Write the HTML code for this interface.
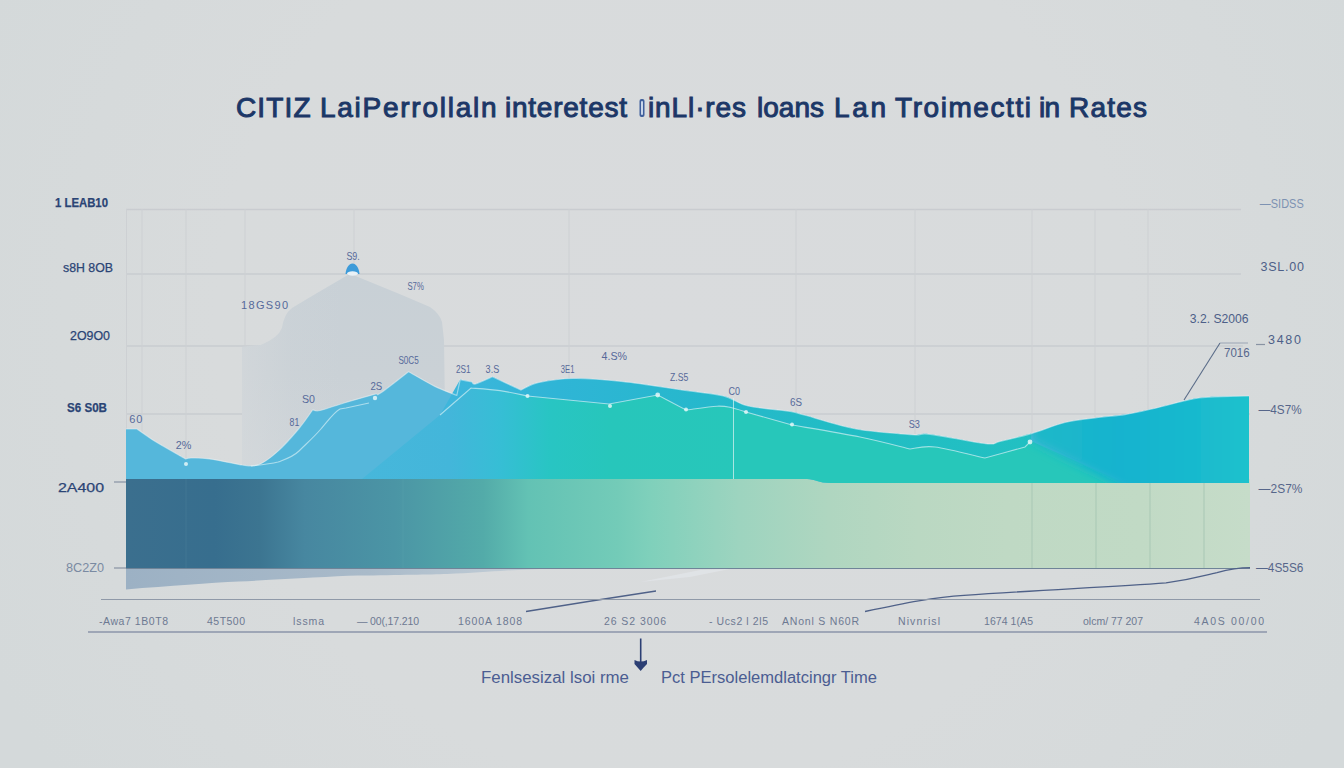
<!DOCTYPE html>
<html><head><meta charset="utf-8">
<style>
html,body{margin:0;padding:0;width:1344px;height:768px;overflow:hidden;background:#d6dadb;}
svg{display:block;}
text{font-family:"Liberation Sans",sans-serif;}
</style></head>
<body>
<svg width="1344" height="768" viewBox="0 0 1344 768">
<defs>
  <radialGradient id="bgG" cx="672" cy="330" r="760" gradientUnits="userSpaceOnUse">
    <stop offset="0" stop-color="#d9dbdd"/>
    <stop offset="0.6" stop-color="#d8dbdc"/>
    <stop offset="1" stop-color="#d4d9da"/>
  </radialGradient>
  <linearGradient id="bandG" x1="126" y1="0" x2="1250" y2="0" gradientUnits="userSpaceOnUse">
    <stop offset="0" stop-color="#3b6f8e"/>
    <stop offset="0.079" stop-color="#376e8e"/>
    <stop offset="0.119" stop-color="#3c7591"/>
    <stop offset="0.159" stop-color="#4787a0"/>
    <stop offset="0.238" stop-color="#4b95a5"/>
    <stop offset="0.318" stop-color="#53aba9"/>
    <stop offset="0.358" stop-color="#63c2b4"/>
    <stop offset="0.437" stop-color="#73cbb8"/>
    <stop offset="0.466" stop-color="#7fd0bb"/>
    <stop offset="0.545" stop-color="#9dd4bf"/>
    <stop offset="0.625" stop-color="#afd6c0"/>
    <stop offset="0.705" stop-color="#bad8c2"/>
    <stop offset="0.784" stop-color="#bfd9c4"/>
    <stop offset="0.903" stop-color="#c1dac5"/>
    <stop offset="1" stop-color="#c6dcc9"/>
  </linearGradient>
  <linearGradient id="blueG" x1="126" y1="0" x2="1250" y2="0" gradientUnits="userSpaceOnUse">
    <stop offset="0" stop-color="#57b7db"/>
    <stop offset="0.3" stop-color="#52b8dc"/>
    <stop offset="1" stop-color="#52b8dc"/>
  </linearGradient>
  <linearGradient id="tealG" x1="362" y1="0" x2="740" y2="0" gradientUnits="userSpaceOnUse">
    <stop offset="0" stop-color="#47b7db"/>
    <stop offset="0.233" stop-color="#43b6da"/>
    <stop offset="0.365" stop-color="#36bed5"/>
    <stop offset="0.497" stop-color="#28c5c3"/>
    <stop offset="0.656" stop-color="#27c6bb"/>
    <stop offset="1" stop-color="#27c7ba"/>
  </linearGradient>
  <linearGradient id="shadowG" x1="126" y1="0" x2="530" y2="0" gradientUnits="userSpaceOnUse">
    <stop offset="0" stop-color="#9cb1c4"/>
    <stop offset="0.6" stop-color="#a9bac9"/>
    <stop offset="1" stop-color="#c3ced7"/>
  </linearGradient>
  <linearGradient id="mtnG" x1="0" y1="270" x2="0" y2="480" gradientUnits="userSpaceOnUse">
    <stop offset="0" stop-color="#c8d0d6"/>
    <stop offset="0.5" stop-color="#cad1d6"/>
    <stop offset="1" stop-color="#cfd5d9"/>
  </linearGradient>
  <linearGradient id="mtnFade" x1="242" y1="0" x2="446" y2="0" gradientUnits="userSpaceOnUse">
    <stop offset="0" stop-color="#d8dbdd" stop-opacity="0.5"/>
    <stop offset="0.25" stop-color="#d8dbdd" stop-opacity="0.1"/>
    <stop offset="0.5" stop-color="#d8dbdd" stop-opacity="0"/>
    <stop offset="1" stop-color="#d8dbdd" stop-opacity="0"/>
  </linearGradient>
  <linearGradient id="ridgeG" x1="440" y1="0" x2="1031" y2="0" gradientUnits="userSpaceOnUse">
    <stop offset="0" stop-color="#3fb6dc"/>
    <stop offset="0.2" stop-color="#2fb5d6"/>
    <stop offset="0.45" stop-color="#26b8cc"/>
    <stop offset="0.7" stop-color="#21bdc4"/>
    <stop offset="1" stop-color="#22c0c2"/>
  </linearGradient>
  <linearGradient id="rightG" x1="1031" y1="0" x2="1249" y2="0" gradientUnits="userSpaceOnUse">
    <stop offset="0" stop-color="#1db9c8"/>
    <stop offset="0.4" stop-color="#17b3cf"/>
    <stop offset="0.75" stop-color="#19b9ce"/>
    <stop offset="1" stop-color="#1dc2cc"/>
  </linearGradient>
</defs>
<rect width="1344" height="768" fill="url(#bgG)"/>

<!-- gridlines -->
<g stroke="#c9ccd0" stroke-width="1.5" fill="none">
  <line x1="126" y1="209.5" x2="1241" y2="209.5"/>
  <line x1="126" y1="274" x2="1241" y2="274"/>
  <line x1="126" y1="346" x2="1243" y2="346"/>
  <line x1="126" y1="414" x2="1250" y2="414"/>
</g>
<g stroke="#cdd0d3" stroke-width="1" fill="none">
  <line x1="126.5" y1="209" x2="126.5" y2="568"/>
  <line x1="142" y1="209" x2="142" y2="568"/>
  <line x1="186" y1="209" x2="186" y2="568"/>
  <line x1="245" y1="209" x2="245" y2="568"/>
  <line x1="354" y1="209" x2="354" y2="568"/>
  <line x1="569" y1="209" x2="569" y2="568"/>
  <line x1="796" y1="209" x2="796" y2="568"/>
  <line x1="915" y1="209" x2="915" y2="568"/>
  <line x1="1032" y1="209" x2="1032" y2="568"/>
  <line x1="1095" y1="209" x2="1095" y2="568"/>
  <line x1="1148" y1="209" x2="1148" y2="568"/>
</g>

<!-- grey mountain -->
<path d="M242,479 L242,347 Q252,345 261,345 Q278,338 282,328 Q284,314 292,308 L312,296 L350,273.7 L399.5,294 L430,307 Q440,314 442,322 L444,340 L446,479 Z" fill="url(#mtnG)"/>
<path d="M242,479 L242,347 Q252,345 261,345 Q278,338 282,328 Q284,314 292,308 L312,296 L350,273.7 L399.5,294 L430,307 Q440,314 442,322 L444,340 L446,479 Z" fill="url(#mtnFade)"/>

<!-- band -->
<rect x="126" y="479" width="1124" height="89.5" fill="url(#bandG)"/>
<line x1="186" y1="479" x2="186" y2="568" stroke="#4a7e99" stroke-width="1" opacity="0.5"/>
<line x1="403" y1="479" x2="403" y2="568" stroke="#5aa3ad" stroke-width="1" opacity="0.4"/>
<g stroke="#a6c6b3" stroke-width="1" opacity="0.9">
  <line x1="1032" y1="483" x2="1032" y2="568"/>
  <line x1="1096" y1="483" x2="1096" y2="568"/>
  <line x1="1150" y1="483" x2="1150" y2="568"/>
  <line x1="1204" y1="483" x2="1204" y2="568"/>
</g>
<!-- main area -->
<path d="M126.0,429.0 C127.8,429.0 135.2,429.0 137.0,429.0 C140.1,431.1 147.6,436.8 155.7,441.8 C163.8,446.8 180.5,456.0 185.5,458.9 C186.5,458.8 187.4,458.0 191.4,458.0 C195.4,458.0 200.9,457.7 209.3,458.9 C217.7,460.1 236.6,464.0 242.0,465.0 C244.7,465.0 252.4,467.1 258.4,464.8 C264.3,462.5 271.0,457.4 277.7,451.4 C284.4,445.4 292.8,435.9 298.6,429.0 C304.4,422.1 310.4,413.0 312.7,409.8 C313.9,409.9 314.8,411.6 320.0,410.5 C325.2,409.4 335.0,405.7 344.0,403.0 C353.0,400.3 367.9,396.1 374.0,394.4 C380.1,392.7 374.8,396.8 380.6,393.0 C386.4,389.2 403.9,375.2 408.6,371.7 C413.0,374.1 426.8,382.4 434.8,386.4 C442.8,390.3 453.1,393.9 456.8,395.4 C457.4,392.8 459.6,382.2 460.2,379.6 C462.2,380.0 470.0,381.6 472.0,382.0 C472.6,382.3 472.1,384.8 475.5,383.9 C478.9,383.0 489.6,378.0 492.4,376.8 C497.2,379.0 516.2,387.8 521.0,390.0 C523.8,388.8 529.3,384.6 538.0,382.7 C546.7,380.8 559.1,378.7 573.3,378.5 C587.5,378.3 605.2,379.8 623.3,381.7 C641.4,383.6 665.0,387.6 681.7,390.0 C698.4,392.4 712.2,393.3 723.3,396.0 C734.3,398.7 736.9,403.4 748.0,406.0 C759.1,408.6 780.3,409.9 790.0,411.5 C799.7,413.1 795.0,412.6 806.0,415.5 C817.0,418.4 838.3,425.8 856.0,429.0 C873.7,432.2 899.7,433.8 912.0,434.7 C924.3,435.6 917.7,432.8 930.0,434.3 C942.3,435.8 974.0,442.5 985.7,443.7 C997.4,444.9 992.4,443.1 1000.0,441.4 C1007.6,439.7 1020.6,436.8 1031.4,433.6 C1042.2,430.5 1053.8,425.2 1065.0,422.5 C1076.2,419.8 1088.4,418.8 1098.4,417.5 C1108.4,416.2 1116.1,416.0 1125.0,414.6 C1133.9,413.2 1142.3,411.2 1152.0,409.0 C1161.7,406.8 1175.2,403.1 1183.0,401.2 C1190.8,399.4 1193.5,398.7 1198.8,398.0 C1204.0,397.3 1206.1,397.1 1214.5,396.8 C1222.9,396.5 1243.2,396.1 1249.0,396.0 L1249,483 L831,483 C818,483 815,479 807,479 L126,479 Z" fill="#55b7db"/>
<!-- teal overlay with diagonal left edge -->
<path d="M362,479 L440.0,415.0 C445.2,410.5 465.8,392.5 471.0,388.0 C475.8,388.4 490.6,389.3 500.0,390.6 C509.4,391.9 522.9,395.1 527.5,396.0 C541.1,397.3 595.4,402.7 609.0,404.0 C617.1,402.5 649.6,396.5 657.7,395.0 C662.4,397.5 681.3,407.5 686.0,410.0 C691.2,409.4 709.4,406.6 717.0,406.2 C724.6,405.9 726.9,406.7 731.7,407.7 C736.5,408.7 743.6,411.3 746.0,412.0 C753.7,414.2 784.3,422.8 792.0,425.0 C803.3,427.0 840.3,433.0 860.0,437.0 C879.7,441.0 901.7,447.0 910.0,449.0 C914.2,448.7 922.5,445.5 935.0,447.0 C947.5,448.5 976.7,456.2 985.0,458.0 C991.7,456.2 1018.3,448.8 1025.0,447.0 C1025.8,446.2 1029.2,442.8 1030.0,442.0 L1031,441 L1125,483 L831,483 C818,483 815,479 807,479 Z" fill="url(#tealG)"/>
<!-- ridge between top edge and white line -->
<path d="M460.2,379.6 C462.2,380.0 470.0,381.6 472.0,382.0 C472.6,382.3 472.1,384.8 475.5,383.9 C478.9,383.0 489.6,378.0 492.4,376.8 C497.2,379.0 516.2,387.8 521.0,390.0 C523.8,388.8 529.3,384.6 538.0,382.7 C546.7,380.8 559.1,378.7 573.3,378.5 C587.5,378.3 605.2,379.8 623.3,381.7 C641.4,383.6 665.0,387.6 681.7,390.0 C698.4,392.4 712.2,393.3 723.3,396.0 C734.3,398.7 736.9,403.4 748.0,406.0 C759.1,408.6 780.3,409.9 790.0,411.5 C799.7,413.1 795.0,412.6 806.0,415.5 C817.0,418.4 838.3,425.8 856.0,429.0 C873.7,432.2 899.7,433.8 912.0,434.7 C924.3,435.6 917.7,432.8 930.0,434.3 C942.3,435.8 974.0,442.5 985.7,443.7 C997.4,444.9 992.4,443.1 1000.0,441.4 C1007.6,439.7 1026.2,434.9 1031.4,433.6 L1031,441 L1030.0,442.0 C1029.2,442.8 1025.8,446.2 1025.0,447.0 C1018.3,448.8 991.7,456.2 985.0,458.0 C976.7,456.2 947.5,448.5 935.0,447.0 C922.5,445.5 914.2,448.7 910.0,449.0 C901.7,447.0 879.7,441.0 860.0,437.0 C840.3,433.0 803.3,427.0 792.0,425.0 C784.3,422.8 753.7,414.2 746.0,412.0 C743.6,411.3 736.5,408.7 731.7,407.7 C726.9,406.7 724.6,405.9 717.0,406.2 C709.4,406.6 691.2,409.4 686.0,410.0 C681.3,407.5 662.4,397.5 657.7,395.0 C649.6,396.5 617.1,402.5 609.0,404.0 C595.4,402.7 541.1,397.3 527.5,396.0 C522.9,395.1 509.4,391.9 500.0,390.6 C490.6,389.3 475.8,388.4 471.0,388.0 C465.8,392.5 445.2,410.5 440.0,415.0 L460.2,379.6 Z" fill="url(#ridgeG)"/>
<!-- right blue -->
<clipPath id="areaClip"><path d="M126.0,429.0 C127.8,429.0 135.2,429.0 137.0,429.0 C140.1,431.1 147.6,436.8 155.7,441.8 C163.8,446.8 180.5,456.0 185.5,458.9 C186.5,458.8 187.4,458.0 191.4,458.0 C195.4,458.0 200.9,457.7 209.3,458.9 C217.7,460.1 236.6,464.0 242.0,465.0 C244.7,465.0 252.4,467.1 258.4,464.8 C264.3,462.5 271.0,457.4 277.7,451.4 C284.4,445.4 292.8,435.9 298.6,429.0 C304.4,422.1 310.4,413.0 312.7,409.8 C313.9,409.9 314.8,411.6 320.0,410.5 C325.2,409.4 335.0,405.7 344.0,403.0 C353.0,400.3 367.9,396.1 374.0,394.4 C380.1,392.7 374.8,396.8 380.6,393.0 C386.4,389.2 403.9,375.2 408.6,371.7 C413.0,374.1 426.8,382.4 434.8,386.4 C442.8,390.3 453.1,393.9 456.8,395.4 C457.4,392.8 459.6,382.2 460.2,379.6 C462.2,380.0 470.0,381.6 472.0,382.0 C472.6,382.3 472.1,384.8 475.5,383.9 C478.9,383.0 489.6,378.0 492.4,376.8 C497.2,379.0 516.2,387.8 521.0,390.0 C523.8,388.8 529.3,384.6 538.0,382.7 C546.7,380.8 559.1,378.7 573.3,378.5 C587.5,378.3 605.2,379.8 623.3,381.7 C641.4,383.6 665.0,387.6 681.7,390.0 C698.4,392.4 712.2,393.3 723.3,396.0 C734.3,398.7 736.9,403.4 748.0,406.0 C759.1,408.6 780.3,409.9 790.0,411.5 C799.7,413.1 795.0,412.6 806.0,415.5 C817.0,418.4 838.3,425.8 856.0,429.0 C873.7,432.2 899.7,433.8 912.0,434.7 C924.3,435.6 917.7,432.8 930.0,434.3 C942.3,435.8 974.0,442.5 985.7,443.7 C997.4,444.9 992.4,443.1 1000.0,441.4 C1007.6,439.7 1020.6,436.8 1031.4,433.6 C1042.2,430.5 1053.8,425.2 1065.0,422.5 C1076.2,419.8 1088.4,418.8 1098.4,417.5 C1108.4,416.2 1116.1,416.0 1125.0,414.6 C1133.9,413.2 1142.3,411.2 1152.0,409.0 C1161.7,406.8 1175.2,403.1 1183.0,401.2 C1190.8,399.4 1193.5,398.7 1198.8,398.0 C1204.0,397.3 1206.1,397.1 1214.5,396.8 C1222.9,396.5 1243.2,396.1 1249.0,396.0 L1249,483 L831,483 C818,483 815,479 807,479 L126,479 Z"/></clipPath>
<filter id="softB" filterUnits="userSpaceOnUse" x="990" y="360" width="300" height="150"><feGaussianBlur stdDeviation="5"/></filter>
<g clip-path="url(#areaClip)">
<path d="M1031,441 L1031,370 L1270,370 L1270,495 L1135,495 Z" fill="url(#rightG)" filter="url(#softB)"/>
</g>
<path d="M1031.4,433.6 C1037.0,431.8 1053.8,425.2 1065.0,422.5 C1076.2,419.8 1088.4,418.8 1098.4,417.5 C1108.4,416.2 1116.1,416.0 1125.0,414.6 C1133.9,413.2 1142.3,411.2 1152.0,409.0 C1161.7,406.8 1175.2,403.1 1183.0,401.2 C1190.8,399.4 1193.5,398.7 1198.8,398.0 C1204.0,397.3 1206.1,397.1 1214.5,396.8 C1222.9,396.5 1243.2,396.1 1249.0,396.0 L1249,483 L1125,483 L1031,441 Z" fill="url(#rightShade)"/>
<!-- top highlight -->
<path d="M126.0,429.0 C127.8,429.0 135.2,429.0 137.0,429.0 C140.1,431.1 147.6,436.8 155.7,441.8 C163.8,446.8 180.5,456.0 185.5,458.9 C186.5,458.8 187.4,458.0 191.4,458.0 C195.4,458.0 200.9,457.7 209.3,458.9 C217.7,460.1 236.6,464.0 242.0,465.0 C244.7,465.0 252.4,467.1 258.4,464.8 C264.3,462.5 271.0,457.4 277.7,451.4 C284.4,445.4 292.8,435.9 298.6,429.0 C304.4,422.1 310.4,413.0 312.7,409.8 C313.9,409.9 314.8,411.6 320.0,410.5 C325.2,409.4 335.0,405.7 344.0,403.0 C353.0,400.3 367.9,396.1 374.0,394.4 C380.1,392.7 374.8,396.8 380.6,393.0 C386.4,389.2 403.9,375.2 408.6,371.7 C413.0,374.1 426.8,382.4 434.8,386.4 C442.8,390.3 453.1,393.9 456.8,395.4 C457.4,392.8 459.6,382.2 460.2,379.6 C462.2,380.0 470.0,381.6 472.0,382.0 C472.6,382.3 472.1,384.8 475.5,383.9 C478.9,383.0 489.6,378.0 492.4,376.8 C497.2,379.0 516.2,387.8 521.0,390.0 C523.8,388.8 529.3,384.6 538.0,382.7 C546.7,380.8 559.1,378.7 573.3,378.5 C587.5,378.3 605.2,379.8 623.3,381.7 C641.4,383.6 665.0,387.6 681.7,390.0 C698.4,392.4 712.2,393.3 723.3,396.0 C734.3,398.7 736.9,403.4 748.0,406.0 C759.1,408.6 780.3,409.9 790.0,411.5 C799.7,413.1 795.0,412.6 806.0,415.5 C817.0,418.4 838.3,425.8 856.0,429.0 C873.7,432.2 899.7,433.8 912.0,434.7 C924.3,435.6 917.7,432.8 930.0,434.3 C942.3,435.8 974.0,442.5 985.7,443.7 C997.4,444.9 992.4,443.1 1000.0,441.4 C1007.6,439.7 1020.6,436.8 1031.4,433.6 C1042.2,430.5 1053.8,425.2 1065.0,422.5 C1076.2,419.8 1088.4,418.8 1098.4,417.5 C1108.4,416.2 1116.1,416.0 1125.0,414.6 C1133.9,413.2 1142.3,411.2 1152.0,409.0 C1161.7,406.8 1175.2,403.1 1183.0,401.2 C1190.8,399.4 1193.5,398.7 1198.8,398.0 C1204.0,397.3 1206.1,397.1 1214.5,396.8 C1222.9,396.5 1243.2,396.1 1249.0,396.0" fill="none" stroke="#eaf5f7" stroke-width="1.2" opacity="0.5"/>
<!-- white line -->
<path d="M251,466 C260,465 270,464 278,462 C286,459 293,457 299,451 C306,444 314,437 320,430 C327,422 334,412 340,409 L346,408 L369,403" fill="none" stroke="#e6f6f8" stroke-width="1.1" opacity="0.6"/>
<path d="M440.0,415.0 C445.2,410.5 465.8,392.5 471.0,388.0 C475.8,388.4 490.6,389.3 500.0,390.6 C509.4,391.9 522.9,395.1 527.5,396.0 C541.1,397.3 595.4,402.7 609.0,404.0 C617.1,402.5 649.6,396.5 657.7,395.0 C662.4,397.5 681.3,407.5 686.0,410.0 C691.2,409.4 709.4,406.6 717.0,406.2 C724.6,405.9 726.9,406.7 731.7,407.7 C736.5,408.7 743.6,411.3 746.0,412.0 C753.7,414.2 784.3,422.8 792.0,425.0 C803.3,427.0 840.3,433.0 860.0,437.0 C879.7,441.0 901.7,447.0 910.0,449.0 C914.2,448.7 922.5,445.5 935.0,447.0 C947.5,448.5 976.7,456.2 985.0,458.0 C991.7,456.2 1018.3,448.8 1025.0,447.0 C1025.8,446.2 1029.2,442.8 1030.0,442.0" fill="none" stroke="#e6f8f8" stroke-width="1.1" opacity="0.6"/>
<g fill="#eefafa" opacity="0.8">
  <circle cx="375" cy="398" r="2.2"/>
  <circle cx="527.5" cy="396" r="2"/>
  <circle cx="610" cy="406" r="2"/>
  <circle cx="657.7" cy="395" r="2.4"/>
  <circle cx="686" cy="409.5" r="2"/>
  <circle cx="746" cy="412" r="2"/>
  <circle cx="792" cy="424.5" r="2"/>
  <circle cx="1030" cy="442" r="2.4"/>
  <circle cx="186" cy="464" r="2"/>
</g>
<path d="M345.5,274 C346,268 349,263.5 352.5,263.5 C356,263.5 359,268 359.5,274 Z" fill="#3d9bd9"/>
<ellipse cx="352.5" cy="273.5" rx="5.5" ry="2.2" fill="#e9f1f6"/>
<line x1="733.5" y1="398" x2="733.5" y2="479" stroke="#e0f4f2" stroke-width="1" opacity="0.7"/>

<line x1="126" y1="568.5" x2="1250" y2="568.5" stroke="#6f8498" stroke-width="1"/>
<!-- shadow -->
<path d="M126,569 L126,589.5 C170,586 210,583 239,581.6 C290,579 330,576.5 358,575.6 C400,575 430,574.5 447,574 C470,573 490,571.5 507,570.5 L540,569 Z" fill="url(#shadowG)"/>
<path d="M640,582 L700,570 L730,569 L690,577 Z" fill="#e4e8ec" opacity="0.6"/>

<!-- dark curve lines -->
<path d="M526,611.5 Q590,601 656,591" fill="none" stroke="#4f6188" stroke-width="1.3"/>
<path d="M865,611.5 C905,603 935,597 964,595.4 C1040,590 1110,587 1166,582.8 C1195,579 1205,575 1217,572.6 C1230,569 1238,567.6 1250,567.6" fill="none" stroke="#4f6188" stroke-width="1.3"/>
<path d="M1184,400 L1220,343" fill="none" stroke="#5a6c88" stroke-width="1.1"/>
<line x1="1220" y1="343" x2="1248" y2="343" stroke="#9aa4b4" stroke-width="1"/>

<!-- axis lines -->
<line x1="101" y1="599.5" x2="1260" y2="599.5" stroke="#8f99a8" stroke-width="1.1"/>
<line x1="88" y1="632" x2="1267" y2="632" stroke="#8b95aa" stroke-width="1.3"/>
<!-- ticks -->
<g stroke="#8893a3" stroke-width="1.2">
  <line x1="114" y1="482" x2="126" y2="482"/>
  <line x1="114" y1="568" x2="126" y2="568"/>
  <line x1="1256" y1="344.5" x2="1265" y2="344.5"/>
</g>

<!-- title -->
<rect x="639.5" y="99" width="5" height="18" rx="2" fill="#3f5f9c"/>
<rect x="641" y="101" width="2" height="14" rx="1" fill="#c9d6ea"/>
<g font-size="28" fill="#1c3767" stroke="#1c3767" stroke-width="1">
  <text x="236" y="117" textLength="74.5" lengthAdjust="spacing">CITIZ</text>
  <text x="320" y="117" textLength="176.5" lengthAdjust="spacing">LaiPerrollaln</text>
  <text x="505" y="117" textLength="122.0" lengthAdjust="spacing">interetest</text>
  
  <text x="648" y="117" textLength="98.0" lengthAdjust="spacing">inLl·res</text>
  <text x="757" y="117" textLength="67.0" lengthAdjust="spacing">loans</text>
  <text x="834" y="117" textLength="52.0" lengthAdjust="spacing">Lan</text>
  <text x="895" y="117" textLength="136" lengthAdjust="spacing">Troimectti</text>
  <text x="1039" y="117" textLength="21" lengthAdjust="spacing">in</text>
  <text x="1069" y="117" textLength="78" lengthAdjust="spacing">Rates</text>
</g>

<!-- left y labels -->
<g font-size="13" fill="#2a4475" text-anchor="end" stroke="#2a4475" stroke-width="0.25">
  <text x="108" y="207" font-weight="bold" textLength="53" lengthAdjust="spacingAndGlyphs">1 LEAB10</text>
  <text x="113" y="272" textLength="50" lengthAdjust="spacingAndGlyphs">s8H 8OB</text>
  <text x="110" y="340" textLength="40" lengthAdjust="spacingAndGlyphs">2O9O0</text>
  <text x="107" y="412" font-weight="bold" textLength="40" lengthAdjust="spacingAndGlyphs">S6 S0B</text>
  <text x="104" y="492" textLength="46" lengthAdjust="spacingAndGlyphs">2A400</text>
  <text x="104" y="572" fill="#7a8aa2" stroke="none" textLength="38" lengthAdjust="spacingAndGlyphs">8C2Z0</text>
</g>
<!-- right y labels -->
<g font-size="12.5">
  <text x="1259.8" y="207.5" fill="#7d92b2" textLength="43.9" lengthAdjust="spacingAndGlyphs">—SIDSS</text>
  <text x="1260.4" y="271.4" fill="#4d5f88" textLength="43.5" lengthAdjust="spacing">3SL.00</text>
  <text x="1189.8" y="323.2" fill="#4d5f88" textLength="58.8" lengthAdjust="spacingAndGlyphs">3.2. S2006</text>
  <text x="1268" y="343.5" fill="#4d5f88" textLength="33.0" lengthAdjust="spacing">3480</text>
  <text x="1224" y="357" fill="#56678c" textLength="25.6" lengthAdjust="spacingAndGlyphs">7016</text>
  <text x="1258.6" y="414" fill="#56668a" textLength="43.0" lengthAdjust="spacingAndGlyphs">—4S7%</text>
  <text x="1258.6" y="492.9" fill="#56668a" textLength="43.8" lengthAdjust="spacingAndGlyphs">—2S7%</text>
  <text x="1256" y="572.3" fill="#56668a" textLength="47.4" lengthAdjust="spacingAndGlyphs">—4S5S6</text>
</g>

<!-- data labels -->
<g fill="#56699a">
  <text x="346.4" y="259.5" font-size="11" textLength="13.4" lengthAdjust="spacingAndGlyphs">S9.</text>
  <text x="407.4" y="290.4" font-size="11" textLength="16.4" lengthAdjust="spacingAndGlyphs">S7%</text>
  <text x="241" y="308.7" font-size="11" textLength="47.0" lengthAdjust="spacing">18GS90</text>
  <text x="398.4" y="364.4" font-size="11" textLength="20.3" lengthAdjust="spacingAndGlyphs">S0C5</text>
  <text x="370.5" y="389.8" font-size="11" textLength="11.8" lengthAdjust="spacingAndGlyphs">2S</text>
  <text x="302" y="403" font-size="11" textLength="13.0" lengthAdjust="spacingAndGlyphs">S0</text>
  <text x="289.6" y="426" font-size="11" textLength="9.7" lengthAdjust="spacingAndGlyphs">81</text>
  <text x="456" y="372.9" font-size="11" textLength="14.7" lengthAdjust="spacingAndGlyphs">2S1</text>
  <text x="485.6" y="373" font-size="11" textLength="13.6" lengthAdjust="spacingAndGlyphs">3.S</text>
  <text x="560.8" y="373.3" font-size="11" textLength="13.6" lengthAdjust="spacingAndGlyphs">3E1</text>
  <text x="601.5" y="360.4" font-size="11" textLength="25.5" lengthAdjust="spacingAndGlyphs">4.S%</text>
  <text x="670" y="380.6" font-size="11" textLength="18.3" lengthAdjust="spacingAndGlyphs">Z.S5</text>
  <text x="728.5" y="395.2" font-size="11" textLength="11.5" lengthAdjust="spacingAndGlyphs">C0</text>
  <text x="790" y="405.6" font-size="11" textLength="12.0" lengthAdjust="spacingAndGlyphs">6S</text>
  <text x="908.7" y="427.6" font-size="11" textLength="11.2" lengthAdjust="spacingAndGlyphs">S3</text>
  <text x="129.2" y="423.2" font-size="11" textLength="13.1" lengthAdjust="spacing">60</text>
  <text x="175.8" y="448.5" font-size="11" textLength="15.6" lengthAdjust="spacingAndGlyphs">2%</text>
</g>

<!-- x labels -->
<g font-size="10.5" fill="#6d7992">
  <text x="99" y="625" textLength="69" lengthAdjust="spacing">-Awa7 1B0T8</text>
  <text x="207" y="625" textLength="38" lengthAdjust="spacing">45T500</text>
  <text x="293" y="625" textLength="31" lengthAdjust="spacing">lssma</text>
  <text x="357" y="625" textLength="62" lengthAdjust="spacing">— 00(,17.210</text>
  <text x="458" y="625" textLength="64" lengthAdjust="spacing">1600A 1808</text>
  <text x="604" y="625" textLength="62" lengthAdjust="spacing">26 S2 3006</text>
  <text x="709" y="625" textLength="59" lengthAdjust="spacing">- Ucs2 l 2l5</text>
  <text x="782" y="625" textLength="77" lengthAdjust="spacing">ANonl S N60R</text>
  <text x="898" y="625" textLength="42" lengthAdjust="spacing">Nivnrisl</text>
  <text x="984" y="625" textLength="49" lengthAdjust="spacing">1674 1(A5</text>
  <text x="1083" y="625" textLength="60" lengthAdjust="spacing">olcm/ 77 207</text>
  <text x="1194" y="625" textLength="70" lengthAdjust="spacing">4A0S 00/00</text>
</g>

<!-- arrow -->
<line x1="640.7" y1="638.5" x2="640.7" y2="662" stroke="#2c3f74" stroke-width="1.6"/>
<path d="M634.5,660 Q640.7,663 647,660 L647,664 Q643,668 640.7,671 Q638,668 634.5,664 Z" fill="#2c3f74"/>

<!-- bottom labels -->
<g font-size="15.8" fill="#4b5d92">
  <text x="481" y="683" textLength="148" lengthAdjust="spacingAndGlyphs">Fenlsesizal lsoi rme</text>
  <text x="661" y="683" textLength="216" lengthAdjust="spacingAndGlyphs">Pct PErsolelemdlatcingr Time</text>
</g>
</svg>
</body></html>
